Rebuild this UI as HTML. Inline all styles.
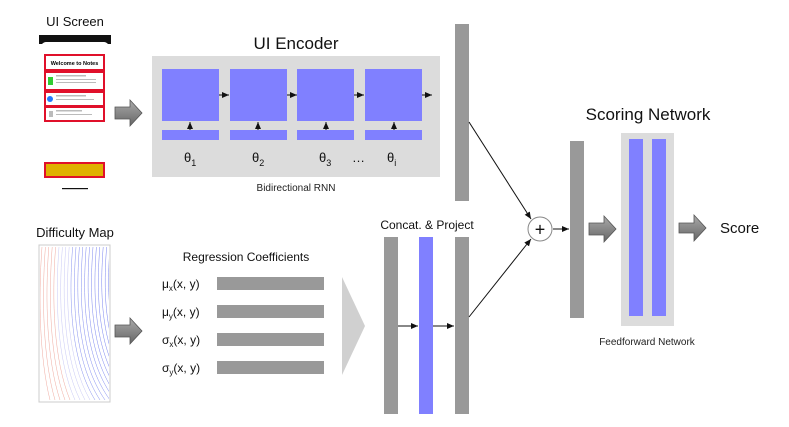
<!DOCTYPE html>
<html><head><meta charset="utf-8"><style>
html,body{margin:0;padding:0;background:#fff;}
svg{display:block;font-family:"Liberation Sans",sans-serif;}
</style></head><body>
<svg id="s" width="789" height="427" viewBox="0 0 789 427" xmlns="http://www.w3.org/2000/svg">
<defs>
<marker id="ah" markerWidth="8" markerHeight="8" refX="7" refY="3" orient="auto" markerUnits="userSpaceOnUse"><path d="M0,0 L7,3 L0,6 z" fill="#111"/></marker>
<linearGradient id="ag" x1="0" y1="0" x2="0" y2="1"><stop offset="0" stop-color="#aaa"/><stop offset="1" stop-color="#666"/></linearGradient>
<clipPath id="dm"><rect x="40" y="246" width="69" height="155"/></clipPath>
</defs>
<!-- UI Screen -->
<text x="75" y="26" font-size="13" text-anchor="middle" fill="#111">UI Screen</text>
<path d="M39,35 H111 V44 H108 Q106,42 104,42 H46 Q44,42 42,44 H39 Z" fill="#111"/>
<rect x="45" y="55" width="59" height="15" fill="#fff" stroke="#e0102a" stroke-width="2"/>
<text x="74.5" y="65" font-size="5.5" font-weight="bold" text-anchor="middle">Welcome to Notes</text>
<rect x="45" y="72" width="59" height="18" fill="#fff" stroke="#e0102a" stroke-width="2"/>
<rect x="48" y="77" width="5" height="8" fill="#3c3"/>
<rect x="45" y="92" width="59" height="14" fill="#fff" stroke="#e0102a" stroke-width="2"/>
<circle cx="50" cy="99" r="3" fill="#27f"/>
<rect x="45" y="107" width="59" height="14" fill="#fff" stroke="#e0102a" stroke-width="2"/>
<g fill="#bbb"><rect x="56" y="75" width="30" height="1.5"/><rect x="56" y="79" width="40" height="1"/><rect x="56" y="82" width="40" height="1"/><rect x="56" y="95" width="30" height="1.5"/><rect x="56" y="99" width="38" height="1"/><rect x="56" y="110" width="26" height="1.5"/><rect x="56" y="114" width="36" height="1"/><rect x="49" y="111" width="4" height="6"/></g>
<rect x="45" y="163" width="59" height="14" fill="#e0b000" stroke="#e0102a" stroke-width="2"/>
<rect x="62" y="188" width="26" height="1.2" fill="#111"/>
<!-- arrows -->
<g fill="url(#ag)" stroke="#555" stroke-width="0.8">
<path d="M115,107 H130 V100 L142,113 L130,126 V119 H115 Z"/>
<path d="M115,325 H130 V318 L142,331 L130,344 V337 H115 Z"/>
<path d="M589,223 H604 V216 L616,229 L604,242 V235 H589 Z"/>
<path d="M679,223 H694 V215 L706,228 L694,241 V233 H679 Z"/>
</g>
<!-- UI Encoder -->
<text x="296" y="49" font-size="17" text-anchor="middle" fill="#111">UI Encoder</text>
<rect x="152" y="56" width="288" height="121" fill="#dcdcdc"/>
<g fill="#8080ff">
<rect x="162" y="69" width="57" height="52"/><rect x="230" y="69" width="57" height="52"/><rect x="297" y="69" width="57" height="52"/><rect x="365" y="69" width="57" height="52"/>
<rect x="162" y="130" width="57" height="10"/><rect x="230" y="130" width="57" height="10"/><rect x="297" y="130" width="57" height="10"/><rect x="365" y="130" width="57" height="10"/>
</g>
<g stroke="#111" stroke-width="1" marker-end="url(#ah)">
<line x1="219" y1="95" x2="229" y2="95"/><line x1="287" y1="95" x2="297" y2="95"/><line x1="354" y1="95" x2="364" y2="95"/><line x1="422" y1="95" x2="432" y2="95"/>
<line x1="190" y1="130" x2="190" y2="122"/><line x1="258" y1="130" x2="258" y2="122"/><line x1="326" y1="130" x2="326" y2="122"/><line x1="394" y1="130" x2="394" y2="122"/>
</g>
<g font-size="13" fill="#111">
<text x="184" y="162">θ<tspan font-size="9" dy="4">1</tspan></text>
<text x="252" y="162">θ<tspan font-size="9" dy="4">2</tspan></text>
<text x="319" y="162">θ<tspan font-size="9" dy="4">3</tspan></text>
<text x="352" y="162">…</text>
<text x="387" y="162">θ<tspan font-size="9" dy="4">i</tspan></text>
</g>
<text x="296" y="191" font-size="10" text-anchor="middle" fill="#222">Bidirectional RNN</text>
<!-- Difficulty map -->
<text x="75" y="237" font-size="13" text-anchor="middle" fill="#111">Difficulty Map</text>
<rect x="39" y="245" width="71" height="157" fill="#fff" stroke="#ccc" stroke-width="1"/>
<g id="lines" fill="none" stroke-width="0.5" clip-path="url(#dm)"></g>
<!-- Regression -->
<text x="246" y="261" font-size="12" text-anchor="middle" fill="#111">Regression Coefficients</text>
<g fill="#999"><rect x="217" y="277" width="107" height="13"/><rect x="217" y="305" width="107" height="13"/><rect x="217" y="333" width="107" height="13"/><rect x="217" y="361" width="107" height="13"/></g>
<g font-size="12" fill="#111">
<text x="162" y="288">μ<tspan font-size="8" dy="3">x</tspan><tspan dy="-3">(x, y)</tspan></text>
<text x="162" y="316">μ<tspan font-size="8" dy="3">y</tspan><tspan dy="-3">(x, y)</tspan></text>
<text x="162" y="344">σ<tspan font-size="8" dy="3">x</tspan><tspan dy="-3">(x, y)</tspan></text>
<text x="162" y="372">σ<tspan font-size="8" dy="3">y</tspan><tspan dy="-3">(x, y)</tspan></text>
</g>
<path d="M342,277 L365,326 L342,375 Z" fill="#d0d0d0"/>
<!-- Concat -->
<text x="427" y="229" font-size="12" text-anchor="middle" fill="#111">Concat. &amp; Project</text>
<rect x="384" y="237" width="14" height="177" fill="#999"/>
<rect x="419" y="237" width="14" height="177" fill="#8080ff"/>
<rect x="455" y="237" width="14" height="177" fill="#999"/>
<rect x="455" y="24" width="14" height="177" fill="#999"/>
<g stroke="#111" stroke-width="1" marker-end="url(#ah)">
<line x1="398" y1="326" x2="418" y2="326"/><line x1="433" y1="326" x2="454" y2="326"/>
<line x1="469" y1="122" x2="531" y2="219"/><line x1="469" y1="317" x2="531" y2="239"/>
<line x1="553" y1="229" x2="569" y2="229"/>
</g>
<circle cx="540" cy="229" r="12" fill="#fff" stroke="#888"/>
<text x="540" y="235.5" font-size="18" text-anchor="middle" fill="#111">+</text>
<!-- Scoring -->
<rect x="570" y="141" width="14" height="177" fill="#999"/>
<text x="648" y="120" font-size="17" text-anchor="middle" fill="#111">Scoring Network</text>
<rect x="621" y="133" width="53" height="193" fill="#dcdcdc"/>
<rect x="629" y="139" width="14" height="177" fill="#8080ff"/>
<rect x="652" y="139" width="14" height="177" fill="#8080ff"/>
<text x="647" y="345" font-size="10" text-anchor="middle" fill="#222">Feedforward Network</text>
<text x="720" y="233" font-size="15" fill="#111">Score</text>
</svg>
<script>
var g=document.getElementById('lines'),s='';
for(var i=0;i<26;i++){var x0=42+i*3.4;var t=i/25;
var c=(i<5)?'rgb(240,170,160)':(i<9?'rgb(200,200,245)':'rgb('+Math.round(150-t*40)+','+Math.round(160-t*40)+',240)');
s+='<path d="M'+x0+',247 C'+(x0-4)+',300 '+(x0-2)+',360 '+(x0+8+t*40)+',400" stroke="'+c+'"/>';}
g.innerHTML=s;
</script>
</body></html>
